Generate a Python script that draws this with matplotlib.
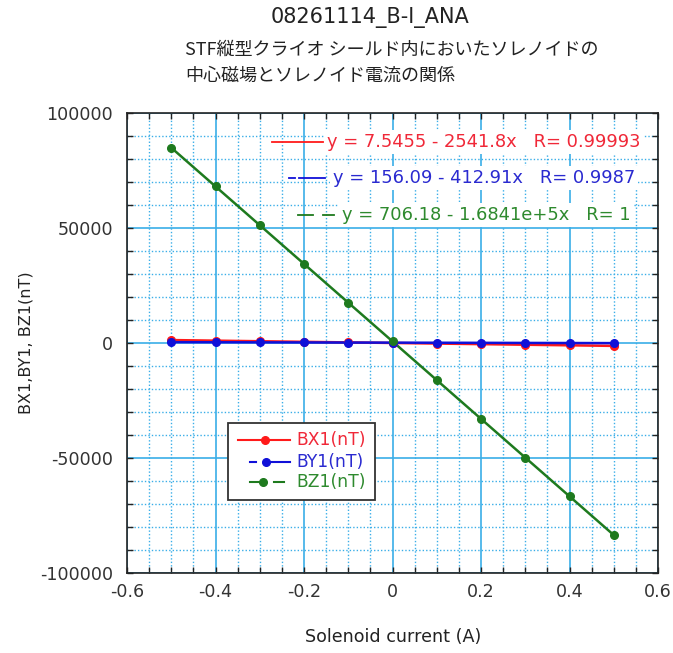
import matplotlib
matplotlib.use("Agg")
import matplotlib.pyplot as plt
from matplotlib.lines import Line2D
from matplotlib.patches import Rectangle
from matplotlib.ticker import MultipleLocator
import numpy as np

plt.rcParams['font.family'] = ['DejaVu Sans', 'Noto Sans CJK JP']

current = [-0.5, -0.4, -0.3, -0.2, -0.1, 0.0, 0.1, 0.2, 0.3, 0.4, 0.5]
bx1 = [1290, 1010, 770, 520, 250, 10, -250, -500, -760, -1020, -1270]
by1 = [370, 320, 280, 240, 200, 150, 110, 70, 30, -10, -50]
bz1 = [84900, 68050, 51250, 34400, 17550, 700, -16150, -32950, -49800, -66650, -83500]

fit_labels = ["y = 7.5455 - 2541.8x   R= 0.99993",
              "y = 156.09 - 412.91x   R= 0.9987",
              "y = 706.18 - 1.6841e+5x   R= 1"]
fit_a = [7.5455, 156.09, 706.18]
fit_b = [-2541.8, -412.91, -1.6841e5]
names = ["BX1(nT)", "BY1(nT)", "BZ1(nT)"]
colors = ["#ff1a1a", "#1010d8", "#1e7a1e"]
text_colors = ["#f02838", "#2a2ad0", "#2e8a2e"]

W, H = 673, 653
def fx(px):
    return px / W
def fy(py):
    return 1 - py / H

fig = plt.figure(figsize=(6.73, 6.53), dpi=100)
ax = fig.add_axes([fx(127), fy(573), (658 - 127) / W, (573 - 113) / H])

ax.set_xlim(-0.6, 0.6)
ax.set_ylim(-100000, 100000)
ax.xaxis.set_minor_locator(MultipleLocator(0.05))
ax.yaxis.set_minor_locator(MultipleLocator(10000))
ax.set_xticks([-0.6, -0.4, -0.2, 0, 0.2, 0.4, 0.6])
ax.set_xticklabels(["-0.6", "-0.4", "-0.2", "0", "0.2", "0.4", "0.6"])
ax.set_yticks([-100000, -50000, 0, 50000, 100000])
ax.set_yticklabels(["-100000", "-50000", "0", "50000", "100000"])

grid_c = "#3aaee8"
ax.grid(which="major", color=grid_c, lw=1.2, ls="-", zorder=0)
ax.grid(which="minor", color=grid_c, lw=1.0, ls=(0, (1, 1.5)), zorder=0)
ax.set_axisbelow(True)

ax.tick_params(which="both", direction="in", top=True, right=True, colors="#222222",
               labelsize=12.6, labelcolor="#333333", length=4.5, width=1)
ax.tick_params(axis="x", pad=7)
ax.tick_params(axis="y", pad=10)
for s in ax.spines.values():
    s.set_color("#222222")
    s.set_linewidth(1.2)

xs = np.array(current)
for series, a, b, c in zip([bx1, by1, bz1], fit_a, fit_b, colors):
    ax.plot(xs, a + b * xs, color=c, lw=1.8, zorder=3)
    ax.plot(current, series, "o", color=c, ms=5.5, zorder=4)

# fit equations with line samples
eq_y = [142, 178, 215]
eq_x = [327, 333, 342]
samples = [[(272, 323)], [(289, 295), (299, 325)], [(298, 313), (323, 334)]]
for lab, tc, c, yy, xx, segs in zip(fit_labels, text_colors, colors, eq_y, eq_x, samples):
    fig.text(fx(xx), fy(yy), lab, color=tc, fontsize=12.9, va="center", ha="left",
             bbox=dict(facecolor="white", edgecolor="none", pad=2.0), zorder=5)
    for s0, s1 in segs:
        fig.add_artist(Line2D([fx(s0), fx(s1)], [fy(yy), fy(yy)], color=c, lw=1.3,
                              transform=fig.transFigure, zorder=6))

# legend box
fig.add_artist(Rectangle((fx(228), fy(500)), (375 - 228) / W, (500 - 423) / H,
                         transform=fig.transFigure, facecolor="white",
                         edgecolor="#333333", lw=1.3, zorder=7))
leg_y = [440, 462, 482]
leg_segs = [[(238, 290)], [(250, 256), (268, 290)], [(250, 261), (274, 284)]]
leg_mark = [265, 266, 263]
for name, tc, c, yy, segs, mx in zip(names, text_colors, colors, leg_y, leg_segs, leg_mark):
    for s0, s1 in segs:
        fig.add_artist(Line2D([fx(s0), fx(s1)], [fy(yy), fy(yy)], color=c, lw=1.5,
                              transform=fig.transFigure, zorder=8))
    fig.add_artist(Line2D([fx(mx)], [fy(yy)], color=c, marker="o", ms=5.5, lw=0,
                          transform=fig.transFigure, zorder=9))
    fig.text(fx(296), fy(yy), name, color=tc, fontsize=12.3, va="center", ha="left", zorder=9)

fig.text(fx(370), fy(18), "08261114_B-I_ANA", fontsize=15, ha="center", va="center", color="#222222")
fig.text(fx(185), fy(50), "STF縦型クライオ シールド内においたソレノイドの", fontsize=13,
         ha="left", va="center", color="#222222",
         family=['Noto Sans CJK JP', 'DejaVu Sans'])
fig.text(fx(185), fy(76), "中心磁場とソレノイド電流の関係", fontsize=13,
         ha="left", va="center", color="#222222",
         family=['Noto Sans CJK JP', 'DejaVu Sans'])

fig.text(fx(393), fy(637), "Solenoid current (A)", fontsize=12.6, ha="center", va="center", color="#222222")
fig.text(fx(26), fy(343), "BX1,BY1, BZ1(nT)", fontsize=11.5, ha="center", va="center",
         rotation=90, color="#222222")

fig.savefig("out.png", dpi=100, facecolor="white")
